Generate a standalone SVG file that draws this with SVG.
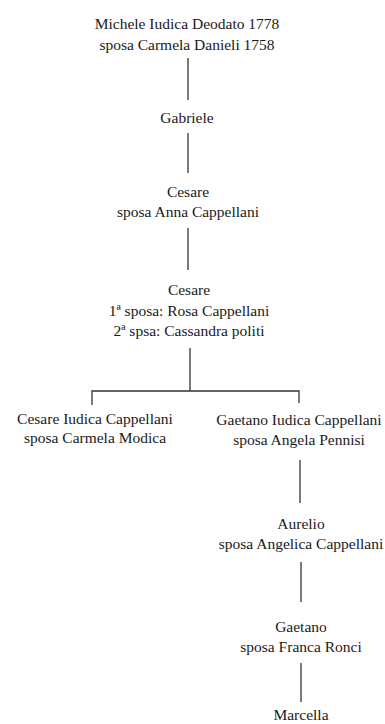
<svg xmlns="http://www.w3.org/2000/svg" width="385" height="724" viewBox="0 0 385 724">
<style>
text{font-family:"Liberation Serif","Times New Roman",serif;font-size:15.5px;fill:#1a1a1a;text-anchor:middle}
.c line,.c path{stroke:#333;stroke-width:1.3;fill:none}
</style>
<rect width="385" height="724" fill="#fff"/>
<g class="c" id="connectors">
<line x1="188" y1="58" x2="188" y2="100"/>
<line x1="188" y1="133" x2="188" y2="173"/>
<line x1="188" y1="228" x2="188" y2="270"/>
<path d="M190 348V391M92 405V391H299V403"/>
<line x1="300" y1="460" x2="300" y2="503"/>
<line x1="301" y1="562" x2="301" y2="602"/>
<line x1="301" y1="663" x2="301" y2="702"/>
</g>
<g id="n1"><text x="187" y="29">Michele Iudica Deodato 1778</text><text x="187" y="50">sposa Carmela Danieli 1758</text></g>
<g id="n2"><text x="187" y="123">Gabriele</text></g>
<g id="n3"><text x="188" y="197">Cesare</text><text x="188" y="217">sposa Anna Cappellani</text></g>
<g id="n4"><text x="189" y="295">Cesare</text><text x="189" y="316">1ª sposa: Rosa Cappellani</text><text x="189" y="336">2ª spsa: Cassandra politi</text></g>
<g id="n5"><text x="95" y="424">Cesare Iudica Cappellani</text><text x="95" y="443">sposa Carmela Modica</text></g>
<g id="n6"><text x="299" y="425">Gaetano Iudica Cappellani</text><text x="299" y="445">sposa Angela Pennisi</text></g>
<g id="n7"><text x="301" y="529">Aurelio</text><text x="301" y="549">sposa Angelica Cappellani</text></g>
<g id="n8"><text x="301" y="632">Gaetano</text><text x="301" y="652">sposa Franca Ronci</text></g>
<g id="n9"><text x="301" y="720">Marcella</text></g>
</svg>
